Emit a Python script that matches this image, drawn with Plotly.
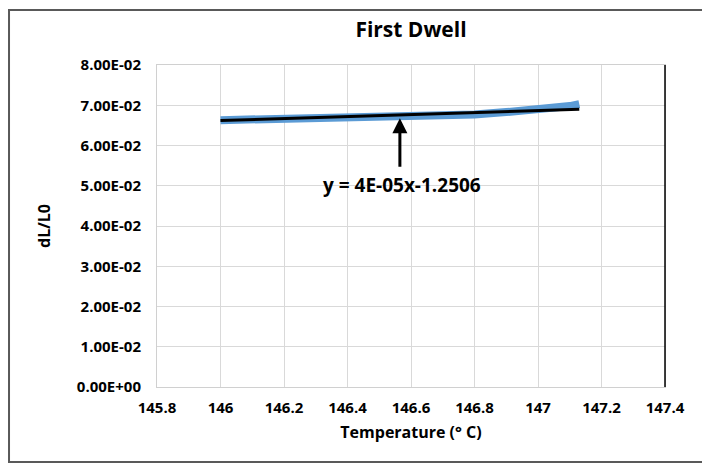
import plotly.graph_objects as go

# Data
temp = [146.00, 146.10, 146.20, 146.30, 146.40, 146.50, 146.60, 146.70, 146.80, 146.90, 147.00, 147.05, 147.10, 147.13]
dl_l0 = [0.0663, 0.0665, 0.0667, 0.0668, 0.0670, 0.0671, 0.0672, 0.0674, 0.0677, 0.0683, 0.0689, 0.0693, 0.0698, 0.0703]
trend_x = [146.00, 147.13]
trend_y = [0.0662, 0.0690]
y_tickvals = [0.0, 0.01, 0.02, 0.03, 0.04, 0.05, 0.06, 0.07, 0.08]
y_ticktext = ["0.00E+00", "1.00E-02", "2.00E-02", "3.00E-02", "4.00E-02",
              "5.00E-02", "6.00E-02", "7.00E-02", "8.00E-02"]
x_tickvals = [145.8, 146.0, 146.2, 146.4, 146.6, 146.8, 147.0, 147.2, 147.4]
x_ticktext = ["145.8", "146", "146.2", "146.4", "146.6", "146.8", "147", "147.2", "147.4"]
eq_text = "y = 4E-05x-1.2506"
arrow_x = 146.565
arrow_y = 0.0668

FONT = "Open Sans"
BOLD = dict(family=FONT, color="#000000", weight="bold")

fig = go.Figure()
fig.add_trace(go.Scatter(x=temp, y=dl_l0, mode="lines",
                         line=dict(color="#5b9bd5", width=8), showlegend=False))
fig.add_trace(go.Scatter(x=trend_x, y=trend_y, mode="lines",
                         line=dict(color="#000000", width=3), showlegend=False))

# arrow only
fig.add_annotation(x=arrow_x, y=arrow_y, xref="x", yref="y",
                   text="", showarrow=True,
                   ax=0, ay=50, arrowhead=2, arrowsize=1, arrowwidth=3,
                   arrowcolor="#000000", standoff=0)
# equation text
fig.add_annotation(x=arrow_x, y=arrow_y, xref="x", yref="y",
                   text=eq_text, showarrow=False, yshift=-67, xshift=2,
                   font=dict(BOLD, size=19))

# plot-area dark right edge
fig.add_shape(type="line", xref="paper", yref="paper", x0=1, x1=1, y0=0, y1=1,
              line=dict(color="#000000", width=1.5))
# outer chart border
fig.add_shape(type="rect", xref="paper", yref="paper",
              x0=-0.2913, x1=1.0846, y0=-0.2329, y1=1.1708,
              line=dict(color="#595959", width=2))

fig.update_layout(
    width=702, height=458,
    margin=dict(l=149, r=45, t=57, b=79),
    paper_bgcolor="white", plot_bgcolor="white",
    font=dict(family=FONT, color="#000000"),
    title=dict(text="First Dwell", x=0.5, xref="paper", xanchor="center",
               y=1 - 22 / 458, yanchor="middle",
               font=dict(BOLD, size=21)),
    xaxis=dict(range=[145.8, 147.4], tickvals=x_tickvals, ticktext=x_ticktext,
               showgrid=True, gridcolor="#d9d9d9", gridwidth=1,
               showline=True, linecolor="#d0d0d0", mirror=True, zeroline=False,
               ticks="", tickfont=dict(BOLD, size=15),
               ticklabelstandoff=7,
               title=dict(text="Temperature (° C)", standoff=10,
                          font=dict(BOLD, size=16))),
    yaxis=dict(range=[0, 0.08], tickvals=y_tickvals, ticktext=y_ticktext,
               showgrid=True, gridcolor="#d9d9d9", gridwidth=1,
               showline=True, linecolor="#d0d0d0", mirror=True, zeroline=False,
               ticks="", tickfont=dict(BOLD, size=15),
               ticklabelstandoff=12,
               title=dict(text="dL/L0", standoff=22,
                          font=dict(BOLD, size=16))),
)

fig.write_html("out.html")
